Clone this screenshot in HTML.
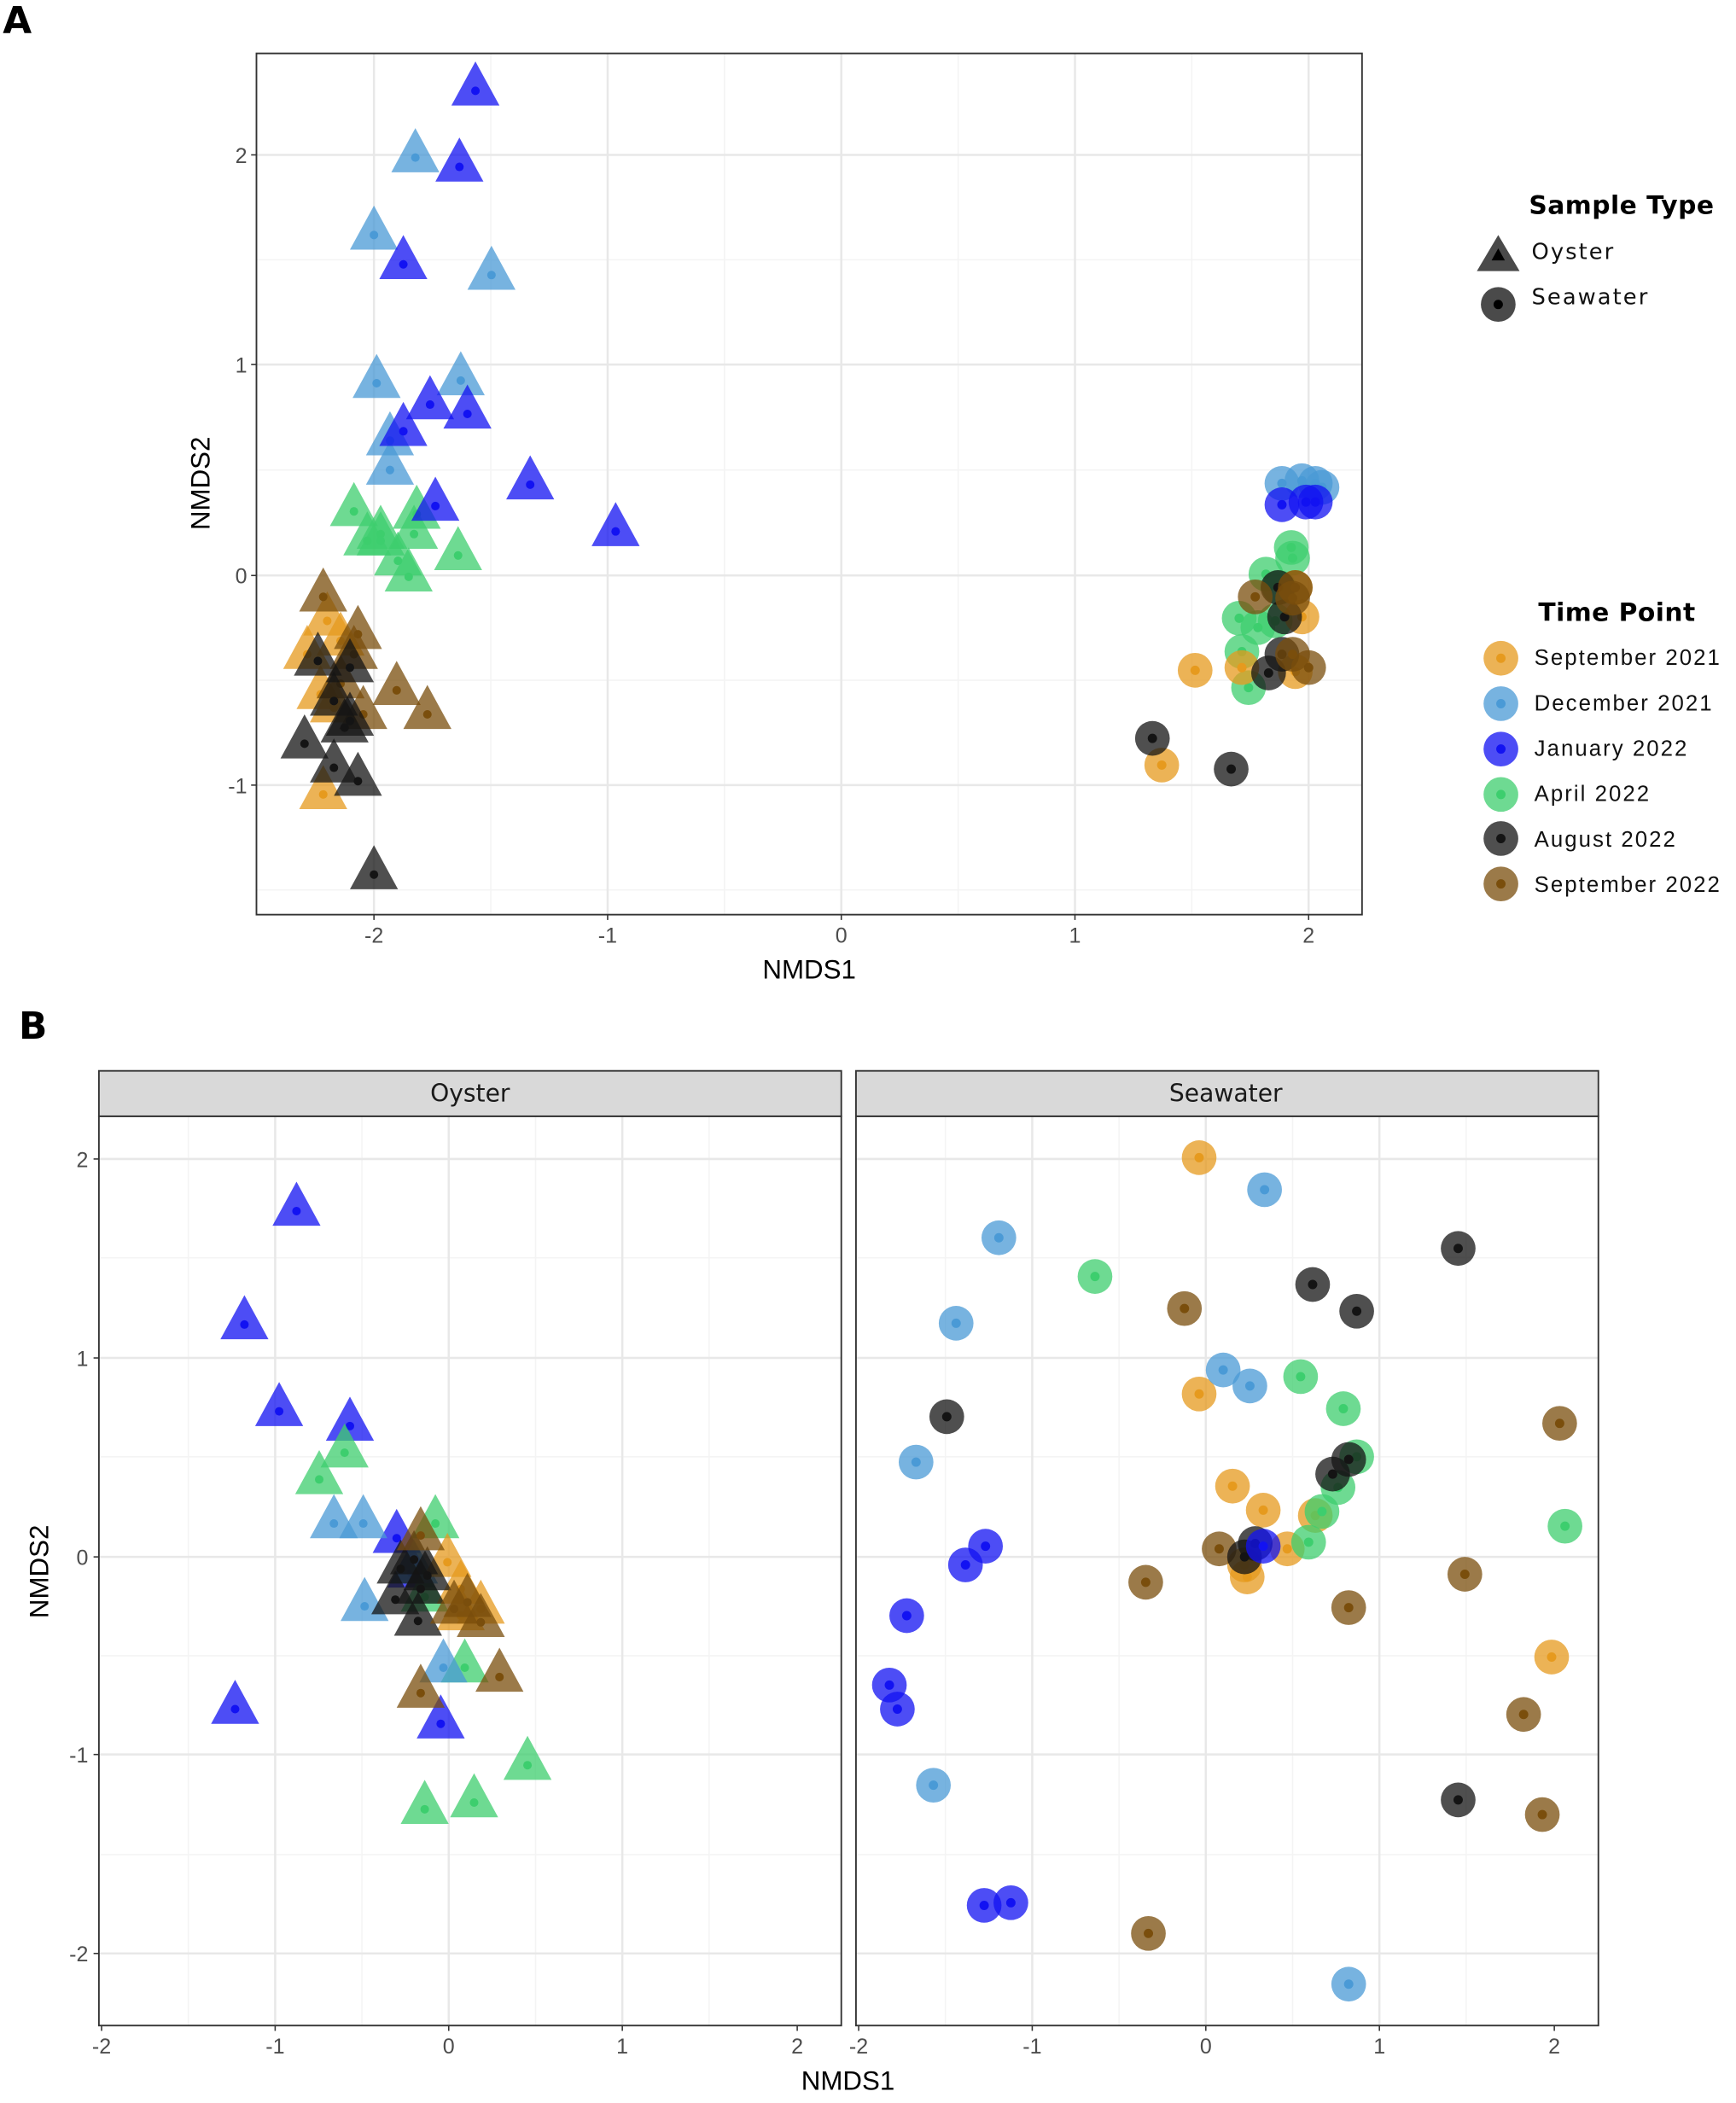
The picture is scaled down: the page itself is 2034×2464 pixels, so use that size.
<!DOCTYPE html>
<html><head><meta charset="utf-8"><style>html,body{margin:0;padding:0;background:#fff}svg{display:block}</style></head><body>
<svg width="2034" height="2464" viewBox="0 0 1300 1575" xmlns="http://www.w3.org/2000/svg">
<defs>
<symbol id="T" overflow="visible"><path d="M0,-22 L18,11 L-18,11Z" opacity="0.75"/><circle r="3.2"/></symbol>
<symbol id="C" overflow="visible"><circle r="13" opacity="0.75"/><circle r="3.5"/></symbol>
</defs>
<style>
.o{fill:#E69A1E}.d{fill:#4A9AD6}.j{fill:#1212F2}.g{fill:#3DCE6E}.k{fill:#141414}.b{fill:#7A4E0C}
text{font-family:"Liberation Sans",sans-serif}
.tk{font-size:16px;fill:#4d4d4d}
.lg{font-family:"DejaVu Sans",sans-serif;font-size:16.5px;fill:#111;letter-spacing:1.3px}
.lt{font-family:"DejaVu Sans",sans-serif;font-size:19px;font-weight:bold;fill:#000;letter-spacing:0.3px}
</style>
<text x="2" y="25" style="font-size:28px;font-weight:bold;font-family:'DejaVu Sans',sans-serif">A</text>
<text x="14" y="778" style="font-size:28px;font-weight:bold;font-family:'DejaVu Sans',sans-serif">B</text>

<!-- Panel A -->
<g stroke="#f4f4f4" stroke-width="1">
<line x1="367.5" y1="40" x2="367.5" y2="685"/><line x1="542.5" y1="40" x2="542.5" y2="685"/><line x1="717.5" y1="40" x2="717.5" y2="685"/><line x1="892.5" y1="40" x2="892.5" y2="685"/>
<line x1="192" y1="194.5" x2="1020" y2="194.5"/><line x1="192" y1="352" x2="1020" y2="352"/><line x1="192" y1="509.5" x2="1020" y2="509.5"/><line x1="192" y1="666.5" x2="1020" y2="666.5"/>
</g>
<g stroke="#e8e8e8" stroke-width="1.6">
<line x1="280" y1="40" x2="280" y2="685"/><line x1="455" y1="40" x2="455" y2="685"/><line x1="630" y1="40" x2="630" y2="685"/><line x1="805" y1="40" x2="805" y2="685"/><line x1="980" y1="40" x2="980" y2="685"/>
<line x1="192" y1="116" x2="1020" y2="116"/><line x1="192" y1="273" x2="1020" y2="273"/><line x1="192" y1="431" x2="1020" y2="431"/><line x1="192" y1="588" x2="1020" y2="588"/>
</g>
<rect x="192" y="40" width="828" height="645" fill="none" stroke="#333" stroke-width="1.2"/>
<g stroke="#333"><line x1="188" y1="116" x2="192" y2="116"/><line x1="188" y1="273" x2="192" y2="273"/><line x1="188" y1="431" x2="192" y2="431"/><line x1="188" y1="588" x2="192" y2="588"/>
<line x1="280" y1="685" x2="280" y2="689"/><line x1="455" y1="685" x2="455" y2="689"/><line x1="630" y1="685" x2="630" y2="689"/><line x1="805" y1="685" x2="805" y2="689"/><line x1="980" y1="685" x2="980" y2="689"/></g>
<g class="tk" text-anchor="end"><text x="185" y="122">2</text><text x="185" y="279">1</text><text x="185" y="437">0</text><text x="185" y="594">-1</text></g>
<g class="tk" text-anchor="middle"><text x="280" y="706">-2</text><text x="455" y="706">-1</text><text x="630" y="706">0</text><text x="805" y="706">1</text><text x="980" y="706">2</text></g>
<text x="606" y="733" text-anchor="middle" style="font-size:20px">NMDS1</text>
<text transform="translate(157,362) rotate(-90)" text-anchor="middle" style="font-size:20px">NMDS2</text>

<g class="o"><use href="#T" x="245" y="465"/><use href="#T" x="230" y="490"/><use href="#T" x="240" y="520"/><use href="#T" x="250" y="530"/><use href="#T" x="242" y="595"/><use href="#T" x="255" y="480"/></g>
<g class="b"><use href="#T" x="242" y="447"/><use href="#T" x="268" y="475"/><use href="#T" x="265" y="490"/><use href="#T" x="297" y="517"/><use href="#T" x="320" y="535"/><use href="#T" x="272" y="535"/><use href="#T" x="255" y="512"/></g>
<g class="k"><use href="#T" x="238" y="495"/><use href="#T" x="262" y="500"/><use href="#T" x="250" y="525"/><use href="#T" x="262" y="540"/><use href="#T" x="228" y="557"/><use href="#T" x="250" y="575"/><use href="#T" x="268" y="585"/><use href="#T" x="280" y="655"/><use href="#T" x="258" y="545"/></g>
<g class="g"><use href="#T" x="265" y="383"/><use href="#T" x="285" y="400"/><use href="#T" x="275" y="405"/><use href="#T" x="312" y="385"/><use href="#T" x="310" y="400"/><use href="#T" x="343" y="416"/><use href="#T" x="306" y="432"/><use href="#T" x="285" y="405"/><use href="#T" x="298" y="420"/></g>
<g class="d"><use href="#T" x="311" y="118"/><use href="#T" x="280" y="176"/><use href="#T" x="368" y="206"/><use href="#T" x="282" y="287"/><use href="#T" x="345" y="285"/><use href="#T" x="292" y="330"/><use href="#T" x="292" y="352"/></g>
<g class="j"><use href="#T" x="356" y="68"/><use href="#T" x="344" y="125"/><use href="#T" x="302" y="198"/><use href="#T" x="350" y="310"/><use href="#T" x="322" y="303"/><use href="#T" x="302" y="323"/><use href="#T" x="397" y="363"/><use href="#T" x="461" y="398"/><use href="#T" x="326" y="379"/></g>

<g class="d"><use href="#C" x="960" y="362"/><use href="#C" x="975" y="360"/><use href="#C" x="985" y="362"/><use href="#C" x="990" y="365"/></g>
<g class="j"><use href="#C" x="960" y="378"/><use href="#C" x="978" y="376"/><use href="#C" x="985" y="376"/></g>
<g class="g"><use href="#C" x="967" y="410"/><use href="#C" x="968" y="418"/><use href="#C" x="948" y="430"/><use href="#C" x="958" y="440"/><use href="#C" x="928" y="463"/><use href="#C" x="942" y="470"/><use href="#C" x="930" y="488"/><use href="#C" x="935" y="515"/><use href="#C" x="955" y="465"/></g>
<g class="o"><use href="#C" x="895" y="502"/><use href="#C" x="870" y="573"/><use href="#C" x="930" y="500"/><use href="#C" x="975" y="462"/><use href="#C" x="970" y="503"/><use href="#C" x="970" y="440"/></g>
<g class="k"><use href="#C" x="863" y="553"/><use href="#C" x="922" y="576"/><use href="#C" x="950" y="504"/><use href="#C" x="962" y="462"/><use href="#C" x="957" y="440"/><use href="#C" x="960" y="490"/></g>
<g class="b"><use href="#C" x="940" y="447"/><use href="#C" x="970" y="440"/><use href="#C" x="968" y="448"/><use href="#C" x="980" y="500"/><use href="#C" x="968" y="490"/></g>

<!-- Legend -->
<text x="1145" y="160" class="lt">Sample Type</text>
<g fill="#2a2a2a"><g><path d="M1122,176 L1138,203 L1106,203Z" opacity="0.85"/><path d="M1122,186 L1127,195 L1117,195Z" fill="#000"/></g>
<circle cx="1122" cy="228" r="13" opacity="0.85"/><circle cx="1122" cy="228" r="3.5" fill="#000"/></g>
<text x="1147" y="194" class="lg">Oyster</text><text x="1147" y="228" class="lg">Seawater</text>
<text x="1152" y="465" class="lt">Time Point</text>
<g class="o"><use href="#C" x="1124" y="493"/></g><g class="d"><use href="#C" x="1124" y="527"/></g><g class="j"><use href="#C" x="1124" y="561"/></g><g class="g"><use href="#C" x="1124" y="595"/></g><g class="k"><use href="#C" x="1124" y="628"/></g><g class="b"><use href="#C" x="1124" y="662"/></g>
<g class="lg"><text x="1149" y="498">September 2021</text><text x="1149" y="532">December 2021</text><text x="1149" y="566">January 2022</text><text x="1149" y="600">April 2022</text><text x="1149" y="634">August 2022</text><text x="1149" y="668">September 2022</text></g>

<!-- Panel B facets -->
<g id="grid">
<g stroke="#f4f4f4" stroke-width="1">
<line x1="141" y1="836" x2="141" y2="1517"/><line x1="271" y1="836" x2="271" y2="1517"/><line x1="401" y1="836" x2="401" y2="1517"/><line x1="531" y1="836" x2="531" y2="1517"/>
<line x1="74" y1="942" x2="630" y2="942"/><line x1="74" y1="1091" x2="630" y2="1091"/><line x1="74" y1="1240" x2="630" y2="1240"/><line x1="74" y1="1389" x2="630" y2="1389"/>
</g>
<g stroke="#e8e8e8" stroke-width="1.6">
<line x1="206" y1="836" x2="206" y2="1517"/><line x1="336" y1="836" x2="336" y2="1517"/><line x1="466" y1="836" x2="466" y2="1517"/>
<line x1="74" y1="868" x2="630" y2="868"/><line x1="74" y1="1017" x2="630" y2="1017"/><line x1="74" y1="1166" x2="630" y2="1166"/><line x1="74" y1="1314" x2="630" y2="1314"/><line x1="74" y1="1463" x2="630" y2="1463"/>
</g>
<rect x="74" y="836" width="556" height="681" fill="none" stroke="#333" stroke-width="1.2"/>
<rect x="74" y="802" width="556" height="34" fill="#d9d9d9" stroke="#333" stroke-width="1.2"/>
<g stroke="#333"><line x1="76" y1="1517" x2="76" y2="1521"/><line x1="206" y1="1517" x2="206" y2="1521"/><line x1="336" y1="1517" x2="336" y2="1521"/><line x1="466" y1="1517" x2="466" y2="1521"/><line x1="597" y1="1517" x2="597" y2="1521"/></g>
</g>
<use href="#grid" x="567"/>
<text x="352" y="825" text-anchor="middle" style="font-size:18px;font-family:'DejaVu Sans',sans-serif;fill:#1a1a1a">Oyster</text>
<text x="918" y="825" text-anchor="middle" style="font-size:18px;font-family:'DejaVu Sans',sans-serif;fill:#1a1a1a">Seawater</text>
<g stroke="#333"><line x1="70" y1="868" x2="74" y2="868"/><line x1="70" y1="1017" x2="74" y2="1017"/><line x1="70" y1="1166" x2="74" y2="1166"/><line x1="70" y1="1314" x2="74" y2="1314"/><line x1="70" y1="1463" x2="74" y2="1463"/></g>
<g class="tk" text-anchor="end"><text x="66" y="874">2</text><text x="66" y="1023">1</text><text x="66" y="1172">0</text><text x="66" y="1320">-1</text><text x="66" y="1469">-2</text></g>
<g class="tk" text-anchor="middle"><text x="76" y="1538">-2</text><text x="206" y="1538">-1</text><text x="336" y="1538">0</text><text x="466" y="1538">1</text><text x="597" y="1538">2</text>
<text x="643" y="1538">-2</text><text x="773" y="1538">-1</text><text x="903" y="1538">0</text><text x="1033" y="1538">1</text><text x="1164" y="1538">2</text></g>
<text x="635" y="1565" text-anchor="middle" style="font-size:20px">NMDS1</text>
<text transform="translate(36,1177) rotate(-90)" text-anchor="middle" style="font-size:20px">NMDS2</text>

<g class="j"><use href="#T" x="222" y="907"/><use href="#T" x="183" y="992"/><use href="#T" x="209" y="1057"/><use href="#T" x="262" y="1068"/><use href="#T" x="176" y="1280"/><use href="#T" x="330" y="1291"/><use href="#T" x="297" y="1152"/><use href="#T" x="308" y="1178"/></g>
<g class="g"><use href="#T" x="258" y="1088"/><use href="#T" x="239" y="1108"/><use href="#T" x="326" y="1141"/><use href="#T" x="348" y="1249"/><use href="#T" x="395" y="1322"/><use href="#T" x="318" y="1355"/><use href="#T" x="355" y="1350"/><use href="#T" x="318" y="1196"/></g>
<g class="d"><use href="#T" x="250" y="1141"/><use href="#T" x="272" y="1141"/><use href="#T" x="273" y="1203"/><use href="#T" x="332" y="1249"/><use href="#T" x="310" y="1175"/></g>
<g class="o"><use href="#T" x="345" y="1190"/><use href="#T" x="345" y="1210"/><use href="#T" x="335" y="1170"/><use href="#T" x="360" y="1205"/></g>
<g class="k"><use href="#T" x="296" y="1198"/><use href="#T" x="313" y="1214"/><use href="#T" x="310" y="1168"/><use href="#T" x="320" y="1180"/><use href="#T" x="300" y="1175"/><use href="#T" x="315" y="1190"/></g>
<g class="b"><use href="#T" x="315" y="1150"/><use href="#T" x="340" y="1205"/><use href="#T" x="360" y="1215"/><use href="#T" x="315" y="1268"/><use href="#T" x="374" y="1256"/><use href="#T" x="350" y="1200"/></g>

<g class="o"><use href="#C" x="898" y="867"/><use href="#C" x="898" y="1044"/><use href="#C" x="923" y="1113"/><use href="#C" x="946" y="1131"/><use href="#C" x="964" y="1160"/><use href="#C" x="934" y="1181"/><use href="#C" x="932" y="1172"/><use href="#C" x="1162" y="1241"/><use href="#C" x="985" y="1135"/></g>
<g class="d"><use href="#C" x="947" y="891"/><use href="#C" x="748" y="927"/><use href="#C" x="716" y="991"/><use href="#C" x="916" y="1026"/><use href="#C" x="936" y="1038"/><use href="#C" x="686" y="1095"/><use href="#C" x="699" y="1337"/><use href="#C" x="1010" y="1486"/></g>
<g class="g"><use href="#C" x="820" y="956"/><use href="#C" x="974" y="1031"/><use href="#C" x="1006" y="1055"/><use href="#C" x="1016" y="1091"/><use href="#C" x="1002" y="1114"/><use href="#C" x="990" y="1132"/><use href="#C" x="980" y="1155"/><use href="#C" x="1172" y="1143"/></g>
<g class="b"><use href="#C" x="887" y="980"/><use href="#C" x="913" y="1160"/><use href="#C" x="858" y="1185"/><use href="#C" x="1010" y="1204"/><use href="#C" x="1168" y="1066"/><use href="#C" x="1097" y="1179"/><use href="#C" x="1141" y="1284"/><use href="#C" x="1155" y="1359"/><use href="#C" x="860" y="1448"/></g>
<g class="k"><use href="#C" x="1092" y="935"/><use href="#C" x="983" y="962"/><use href="#C" x="1016" y="982"/><use href="#C" x="709" y="1061"/><use href="#C" x="1010" y="1093"/><use href="#C" x="998" y="1104"/><use href="#C" x="932" y="1166"/><use href="#C" x="940" y="1156"/><use href="#C" x="1092" y="1348"/></g>
<g class="j"><use href="#C" x="738" y="1158"/><use href="#C" x="723" y="1172"/><use href="#C" x="679" y="1210"/><use href="#C" x="666" y="1262"/><use href="#C" x="672" y="1280"/><use href="#C" x="737" y="1427"/><use href="#C" x="757" y="1425"/><use href="#C" x="946" y="1158"/></g>
</svg>
</body></html>
